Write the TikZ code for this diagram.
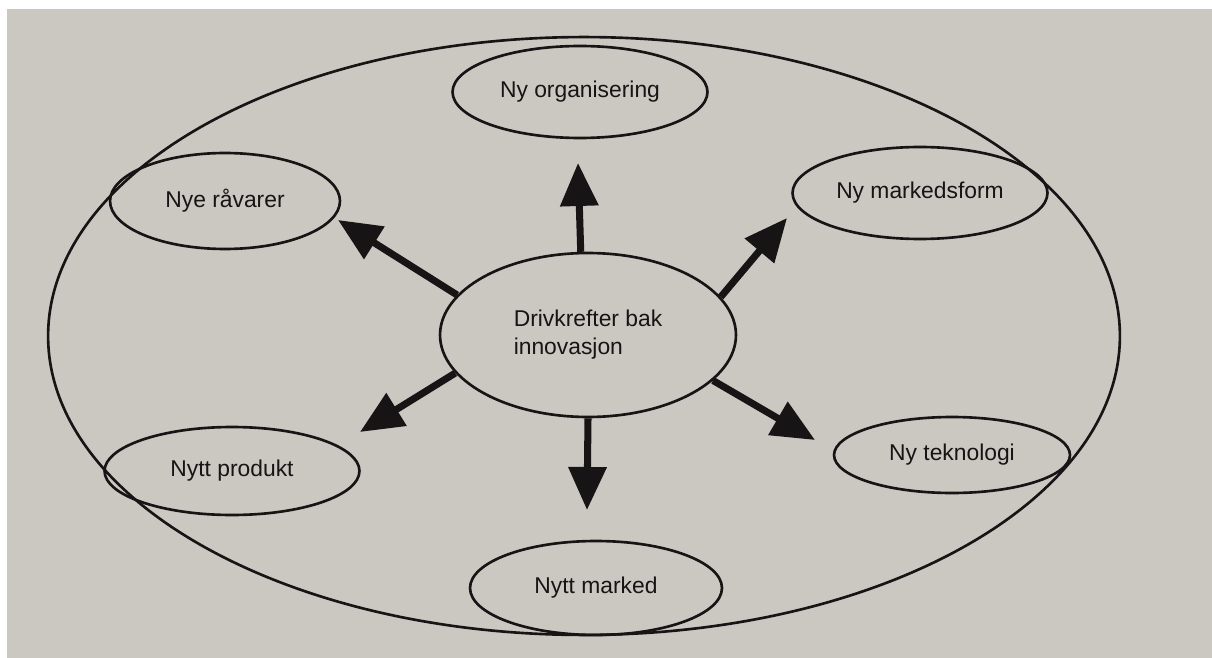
\documentclass[tikz,border=0pt]{standalone}
\usepackage{fontspec}
\setmainfont{Liberation Sans}
\usepackage{xcolor}
\usepackage{tikz}
\usetikzlibrary{shapes.geometric,arrows.meta}
\definecolor{paper}{RGB}{203,200,194}
\definecolor{ink}{RGB}{22,20,20}

\begin{document}
\begin{tikzpicture}[x=0.02cm, y=-0.02cm]
				\tikzstyle{common} = [draw=ink, ellipse, line width=1.5pt, inner sep=0, text=ink, font=\fontsize{13}{16}\selectfont]
				\tikzstyle{driver} = [common, minimum width=5.1cm, minimum height=1.84cm]
				\tikzstyle{core} = [common, minimum width=5.92cm, minimum height=3.28cm, align=left]
				\tikzstyle{frame} = [common, minimum width=21.44cm, minimum height=11.96cm]
				\tikzstyle{push} = [draw=ink, line width=4pt, -{Triangle[length=8.6mm, width=7.4mm]}]
				\useasboundingbox (0,0) rectangle (1212,658);
				\fill[white] (0,0) rectangle (1212,658);
				\fill[paper] (7,9) rectangle (1212,658);
				\node[frame] (ramme) at (584,336) {};
				\node[core] (mid) at (588,335) {Drivkrefter bak\\innovasjon};
				\node[driver] (org) at (580,92) {Ny organisering};
				\node[driver, minimum width=4.6cm, minimum height=1.92cm] (rav) at (225,201) {Nye råvarer};
				\node[driver] (mform) at (920,193) {Ny markedsform};
				\node[driver, minimum height=1.76cm] (prod) at (232,471) {Nytt produkt};
				\node[driver, minimum width=4.72cm, minimum height=1.52cm] (tek) at (952,455) {Ny teknologi};
				\node[driver, minimum width=5.04cm, minimum height=1.88cm] (mark) at (596,588) {Nytt marked};
				\coordinate (tOrg) at (578,163);
				\coordinate (tRav) at (338,220);
				\coordinate (tMform) at (787,218);
				\coordinate (tProd) at (360,432);
				\coordinate (tTek) at (815,440);
				\coordinate (tMark) at (587,510);
				\draw[push] (mid.95) -- (tOrg);
				\draw[push] (mid.163) -- (tRav);
				\draw[push] (mid.16) -- (tMform);
				\draw[push] (mid.196) -- (tProd);
				\draw[push] (mid.340) -- (tTek);
				\draw[push] (mid.270) -- (tMark);
			\end{tikzpicture}
\end{document}
